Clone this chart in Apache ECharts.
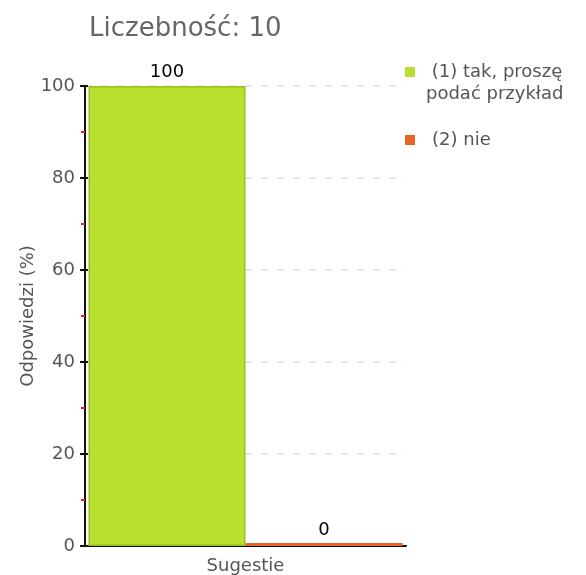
<!DOCTYPE html>
<html>
<head>
<meta charset="utf-8">
<script src="https://cdn.jsdelivr.net/npm/echarts@6/dist/echarts.min.js"></script>
<style>
  html, body { margin: 0; padding: 0; background: #fff; }
  #chart { width: 586px; height: 575px; }
</style>
</head>
<body>
<div id="chart"></div>
<script>
// dane
const categories = ['Sugestie'];
const seriesNames = [' (1) tak, proszę\npodać przykład', '(2) nie'];
const valuesTak = [100];
const valuesNie = [0];
const titleText = 'Liczebność: 10';

const FONT = '"DejaVu Sans", Verdana, sans-serif';

const chart = echarts.init(document.getElementById('chart'));

const option = {
    backgroundColor: '#ffffff',
    animation: false,
    title: {
        text: titleText,
        left: 84, top: 11,
        textStyle: { fontFamily: FONT, fontSize: 26, fontWeight: 'normal', color: '#666' }
    },
    legend: {
        orient: 'vertical',
        left: 400, top: 34,
        itemWidth: 10, itemHeight: 10,
        itemGap: 24,
        icon: 'rect',
        itemStyle: { borderWidth: 0 },
        // pusta linia na początku, żeby ikonka stała przy pierwszym wierszu
        formatter: name => name === seriesNames[0] ? '\n' + name : name,
        textStyle: { fontFamily: FONT, fontSize: 18, color: '#555', lineHeight: 22, padding: [0, 0, 0, 6] },
        data: [
            { name: seriesNames[0] },
            { name: seriesNames[1], textStyle: { padding: [0, 0, 0, 12] } }
        ]
    },
    grid: { left: 85, right: 180, top: 86, bottom: 29 },
    xAxis: {
        type: 'category',
        data: categories,
        axisLine: { lineStyle: { color: '#111', width: 2 } },
        axisTick: { alignWithLabel: true, length: 5, lineStyle: { color: '#111', width: 2 } },
        axisLabel: { fontFamily: FONT, fontSize: 18, color: '#555', margin: 11 }
    },
    yAxis: [
        {
            type: 'value',
            min: 0, max: 100, interval: 20,
            name: 'Odpowiedzi (%)',
            nameLocation: 'middle',
            nameGap: 48,
            nameMoveOverlap: false,
            nameTextStyle: { fontFamily: FONT, fontSize: 18, color: '#555' },
            axisLine: { show: true, lineStyle: { color: '#111', width: 2 } },
            axisTick: { show: true, length: 5, lineStyle: { color: '#111', width: 2 } },
            minorTick: { show: true, splitNumber: 2, length: 4, lineStyle: { color: '#ff1a1a', width: 2 } },
            axisLabel: { fontFamily: FONT, fontSize: 18, color: '#555', margin: 10 },
            splitLine: { show: true, lineStyle: { color: '#e0e0e0', type: [7, 9], width: 1.5 } }
        },
        {
            // krótkie kreski po wewnętrznej stronie osi
            type: 'value',
            min: 0, max: 100, interval: 20,
            position: 'left',
            axisLine: { show: false },
            axisTick: { show: true, inside: true, length: 3, lineStyle: { color: '#111', width: 2 } },
            axisLabel: { show: false },
            splitLine: { show: false }
        }
    ],
    series: [
        {
            name: seriesNames[0],
            type: 'bar',
            data: valuesTak,
            barWidth: 157,
            barGap: '0%',
            itemStyle: { color: '#b9df2f', borderColor: '#96bf1c', borderWidth: 1.5 },
            label: { show: true, position: 'top', distance: 5, fontFamily: FONT, fontSize: 18, color: '#000' }
        },
        {
            name: seriesNames[1],
            type: 'bar',
            data: valuesNie,
            barWidth: 157,
            barMinHeight: 3,
            itemStyle: { color: '#e4642c' },
            label: { show: true, position: 'top', distance: 4, fontFamily: FONT, fontSize: 18, color: '#000' }
        }
    ]
};

chart.setOption(option);
</script>
</body>
</html>
